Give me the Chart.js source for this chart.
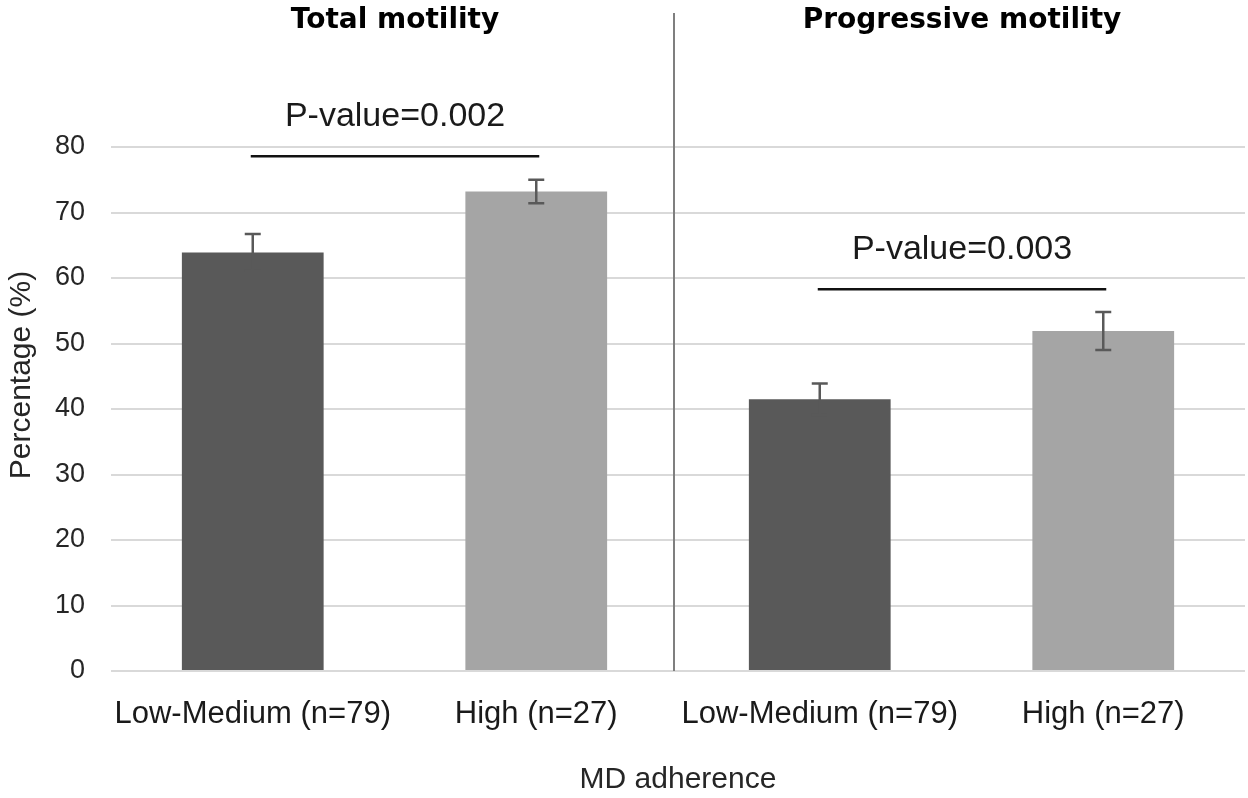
<!DOCTYPE html>
<html>
<head>
<meta charset="utf-8">
<script src="https://cdn.jsdelivr.net/npm/chart.js@4.4.1/dist/chart.umd.min.js"></script>
<style>
  html, body { margin:0; padding:0; background:#fff; }
  #wrap { width:1248px; height:798px; }
</style>
</head>
<body>
<div id="wrap"><canvas id="motChart" width="1248" height="798"></canvas></div>
<script>
// 데이터: 그림에서 읽은 값
const categories = ['Low-Medium (n=79)', 'High (n=27)', 'Low-Medium (n=79)', 'High (n=27)'];
const means = [63.9, 73.2, 41.5, 51.9];
const errors = [2.8, 1.8, 2.4, 2.9];
const barColors = ['#595959', '#a5a5a5', '#595959', '#a5a5a5'];
const groupTitles = ['Total motility', 'Progressive motility'];
const pValueLabels = ['P-value=0.002', 'P-value=0.003'];
const pLineLevels = [78.6, 58.3];
const yTicks = [0, 10, 20, 30, 40, 50, 60, 70, 80];

const FONT = "'Liberation Sans', Arial, sans-serif";

// Error bars, p-value brackets, divider and group titles
const extras = {
  id: 'extras',
  afterDatasetsDraw(chart) {
    const {ctx, scales:{x, y}, chartArea} = chart;
    ctx.save();

    // error bars
    ctx.strokeStyle = '#595959';
    ctx.lineWidth = 2.5;
    means.forEach((m, i) => {
      const cx = x.getPixelForValue(i);
      const top = y.getPixelForValue(m + errors[i]);
      const bot = y.getPixelForValue(m - errors[i]);
      ctx.beginPath();
      ctx.moveTo(cx, top); ctx.lineTo(cx, bot);
      ctx.moveTo(cx - 8, top); ctx.lineTo(cx + 8, top);
      ctx.moveTo(cx - 8, bot); ctx.lineTo(cx + 8, bot);
      ctx.stroke();
    });

    // divider between the two groups
    const divX = (x.getPixelForValue(1) + x.getPixelForValue(2)) / 2 - 4;
    ctx.strokeStyle = '#7f7f7f';
    ctx.lineWidth = 2;
    ctx.beginPath();
    ctx.moveTo(divX, 13); ctx.lineTo(divX, chartArea.bottom);
    ctx.stroke();

    // p-value lines + texts, group titles
    pLineLevels.forEach((lv, g) => {
      const x1 = x.getPixelForValue(g * 2) - 2;
      const x2 = x.getPixelForValue(g * 2 + 1) + 3;
      const ly = y.getPixelForValue(lv);
      const mid = (x1 + x2) / 2;
      ctx.strokeStyle = '#111';
      ctx.lineWidth = 2.5;
      ctx.beginPath();
      ctx.moveTo(x1, ly); ctx.lineTo(x2, ly);
      ctx.stroke();

      ctx.fillStyle = '#1a1a1a';
      ctx.font = '34px ' + FONT;
      ctx.textAlign = 'center';
      ctx.textBaseline = 'alphabetic';
      ctx.fillText(pValueLabels[g], mid, ly - 30);

      ctx.fillStyle = '#000';
      ctx.font = "bold 28px 'DejaVu Sans', sans-serif";
      ctx.fillText(groupTitles[g], mid, 28);
    });

    // y axis title
    ctx.translate(22, 375);
    ctx.rotate(-Math.PI / 2);
    ctx.fillStyle = '#262626';
    ctx.font = '30px ' + FONT;
    ctx.textAlign = 'center';
    ctx.textBaseline = 'middle';
    ctx.fillText('Percentage (%)', 0, 0);

    ctx.restore();
  }
};

const ctx = document.getElementById('motChart').getContext('2d');
const motChart = new Chart(ctx, {
  type: 'bar',
  data: {
    labels: categories,
    datasets: [{
      data: means,
      backgroundColor: barColors,
      borderWidth: 0,
      categoryPercentage: 1,
      barPercentage: 0.5
    }]
  },
  options: {
    responsive: false,
    animation: false,
    devicePixelRatio: 1,
    layout: { padding: { top: 147, right: 3, left: 0, bottom: 0 } },
    plugins: { legend: { display: false }, tooltip: { enabled: false } },
    scales: {
      x: {
        grid: { display: false },
        border: { display: false },
        ticks: { color: '#1a1a1a', font: { family: FONT, size: 31 }, padding: 17, maxRotation: 0, autoSkip: false },
        title: { display: true, text: 'MD adherence', color: '#262626', font: { family: FONT, size: 30 }, padding: { top: 0, bottom: 0 } },
        afterFit(scale) { scale.height = 127; }
      },
      y: {
        min: 0, max: 80,
        afterBuildTicks(scale) { scale.ticks = yTicks.map(v => ({ value: v })); },
        grid: { color: '#d9d9d9', lineWidth: 2, drawTicks: false },
        border: { display: false },
        ticks: { color: '#262626', font: { family: FONT, size: 27 }, padding: 26 },
        afterFit(scale) { scale.width = 111; }
      }
    }
  },
  plugins: [extras]
});
</script>
</body>
</html>
